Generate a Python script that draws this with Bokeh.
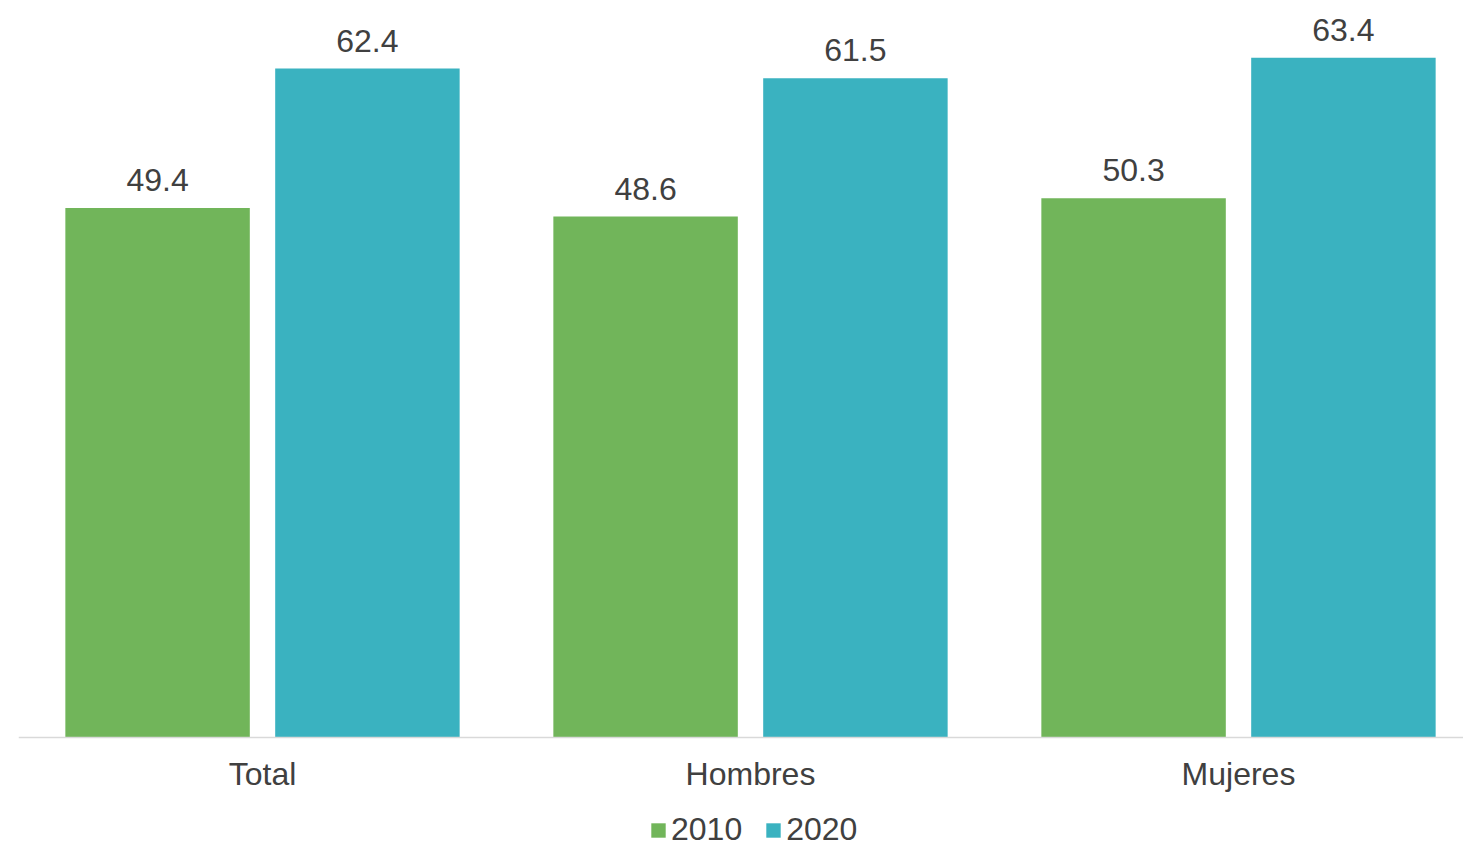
from bokeh.plotting import figure
from bokeh.models import ColumnDataSource, Range1d, Legend, LegendItem, Span
from bokeh.core.properties import value
from bokeh.embed import file_html
from bokeh.resources import INLINE

categories = ["Total", "Hombres", "Mujeres"]
series_names = ["2010", "2020"]
values_2010 = [49.4, 48.6, 50.3]
values_2020 = [62.4, 61.5, 63.4]

GREEN = "#71b55a"
TEAL = "#3ab2c0"
TXT = "#404040"
FONT = "Liberation Sans"

centers = [i + 0.5 for i in range(len(categories))]
off = 0.215
bw = 0.378
PX_PER_UNIT = 10.72

p = figure(frame_width=1445, frame_height=848, output_backend="svg", toolbar_location=None,
           x_range=Range1d(0, 1445 / 488),
           y_range=Range1d(-111 / PX_PER_UNIT, 737 / PX_PER_UNIT),
           min_border_left=18, min_border_right=0, min_border_top=0, min_border_bottom=0)
p.outline_line_color = None
p.xgrid.visible = False
p.ygrid.visible = False
p.yaxis.visible = False
p.xaxis.visible = False

# baseline (category axis line)
p.add_layout(Span(location=0, dimension="width", line_color="#d9d9d9", line_width=1.5))

src1 = ColumnDataSource(dict(x=[c - off for c in centers], top=values_2010,
                             lab=[f"{v:.1f}" for v in values_2010]))
src2 = ColumnDataSource(dict(x=[c + off for c in centers], top=values_2020,
                             lab=[f"{v:.1f}" for v in values_2020]))

r1 = p.vbar(x="x", top="top", width=bw, bottom=0, source=src1, fill_color=GREEN, line_color=None)
r2 = p.vbar(x="x", top="top", width=bw, bottom=0, source=src2, fill_color=TEAL, line_color=None)

for s in (src1, src2):
    p.text(x="x", y="top", text="lab", source=s, text_align="center", text_baseline="alphabetic",
           y_offset=-28, text_font=value(FONT), text_font_size="32px", text_color=TXT)

# category labels
cat_src = ColumnDataSource(dict(x=centers, y=[0] * len(centers), lab=categories))
p.text(x="x", y="y", text="lab", source=cat_src, text_align="center", text_baseline="alphabetic",
       y_offset=36, text_font=value(FONT), text_font_size="32px", text_color=TXT)

legend = Legend(items=[LegendItem(label=series_names[0], renderers=[r1]),
                       LegendItem(label=series_names[1], renderers=[r2])],
                orientation="horizontal", location=(631, 0),
                glyph_width=18, glyph_height=18, label_standoff=4, spacing=22,
                label_text_font=FONT, label_text_font_size="32px", label_text_color=TXT,
                border_line_color=None, background_fill_alpha=0, padding=0, margin=0)
p.add_layout(legend, "center")

open("out.html", "w").write(file_html(p, INLINE))
